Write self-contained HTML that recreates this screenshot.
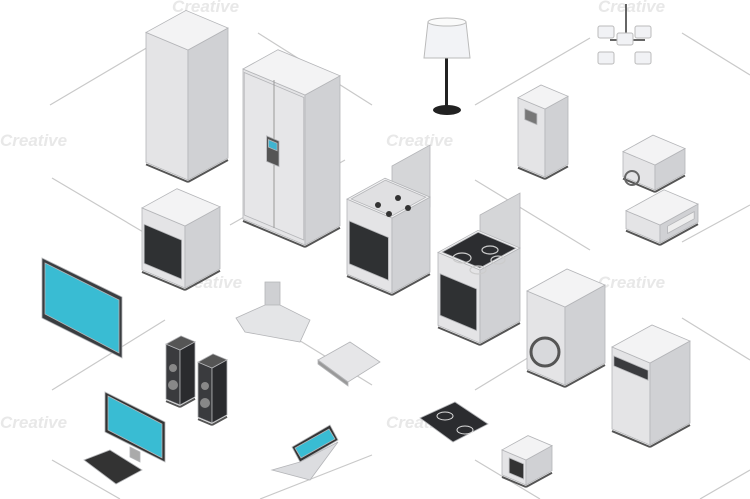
<!DOCTYPE html>
<html><head><meta charset="utf-8"><style>
html,body{margin:0;padding:0;background:#fff;width:750px;height:499px;overflow:hidden}
svg{display:block}
</style></head><body>
<svg id="s" width="750" height="499" viewBox="0 0 750 499" xmlns="http://www.w3.org/2000/svg">
<g font-family="Liberation Sans, sans-serif" fill="#e8e8e8" font-style="italic" font-weight="bold" font-size="17">
<text x="172" y="12">Creative</text><text x="0" y="146">Creative</text><text x="386" y="146">Creative</text>
<text x="598" y="12">Creative</text><text x="175" y="288">Creative</text><text x="598" y="288">Creative</text>
<text x="0" y="428">Creative</text><text x="386" y="428">Creative</text>
</g>
<g stroke="#c9c9c9" stroke-width="1.2">
<line x1="50" y1="105" x2="160" y2="40"/>
<line x1="258" y1="33" x2="372" y2="105"/>
<line x1="475" y1="105" x2="590" y2="38"/>
<line x1="682" y1="33" x2="750" y2="75"/>
<line x1="52" y1="178" x2="150" y2="236"/>
<line x1="230" y1="225" x2="345" y2="160"/>
<line x1="475" y1="180" x2="590" y2="250"/>
<line x1="682" y1="242" x2="750" y2="205"/>
<line x1="52" y1="390" x2="165" y2="320"/>
<line x1="258" y1="315" x2="372" y2="385"/>
<line x1="475" y1="390" x2="590" y2="320"/>
<line x1="682" y1="318" x2="750" y2="360"/>
<line x1="52" y1="460" x2="120" y2="499"/>
<line x1="260" y1="499" x2="372" y2="455"/>
<line x1="475" y1="460" x2="540" y2="499"/>
<line x1="700" y1="499" x2="750" y2="470"/>
</g>
<g id="g"></g>
</svg>
<script>
(function(){
var G=document.getElementById('g'),h='';
function P(pts,f,st){h+='<polygon points="'+pts.map(function(p){return p[0].toFixed(1)+','+p[1].toFixed(1);}).join(' ')+'" fill="'+f+'" stroke="'+(st||'#b4b5b8')+'" stroke-width="0.8"/>';}
var SL=0.42,SR=0.55;
function box(x,y,a,b,H,cl,cr,ct){
 P([[x,y],[x-a,y-a*SL],[x-a,y-a*SL-H],[x,y-H]],cl||'#e4e4e6');
 P([[x,y],[x+b,y-b*SR],[x+b,y-b*SR-H],[x,y-H]],cr||'#d0d1d4');
 P([[x,y-H],[x-a,y-a*SL-H],[x-a+b,y-a*SL-b*SR-H],[x+b,y-b*SR-H]],ct||'#f3f3f4');
 h+='<line x1="'+(x-a)+'" y1="'+(y-a*SL+2)+'" x2="'+x+'" y2="'+(y+2)+'" stroke="#555" stroke-width="2"/><line x1="'+x+'" y1="'+(y+2)+'" x2="'+(x+b)+'" y2="'+(y-b*SR+2)+'" stroke="#555" stroke-width="2"/>';
}
function LF(x,y,a,H,u1,v1,u2,v2,f){P([[x-a*u1,y-a*u1*SL-H*v1],[x-a*u2,y-a*u2*SL-H*v1],[x-a*u2,y-a*u2*SL-H*v2],[x-a*u1,y-a*u1*SL-H*v2]],f);}
function RF(x,y,b,H,u1,v1,u2,v2,f){P([[x+b*u1,y-b*u1*SR-H*v1],[x+b*u2,y-b*u2*SR-H*v1],[x+b*u2,y-b*u2*SR-H*v2],[x+b*u1,y-b*u1*SR-H*v2]],f);}
function TP(x,y,a,b,H,u1,w1,u2,w2,f){function q(u,w){return [x-a*u+b*w,y-a*u*SL-b*w*SR-H];}P([q(u1,w1),q(u2,w1),q(u2,w2),q(u1,w2)],f);}
box(188,180,42,40,130);
box(305,245,62,35,150);LF(305,245,62,150,0.02,0.03,0.98,0.98,'#e6e6e8');
h+='<line x1="274" y1="228" x2="274" y2="80" stroke="#999"/>';
LF(305,245,62,150,0.42,0.45,0.62,0.62,'#555');LF(305,245,62,150,0.45,0.55,0.59,0.6,'#3fb4d0');
box(185,288,43,35,62);LF(185,288,43,62,0.08,0.12,0.95,0.75,'#2f3133');
P([[392,228],[430,207],[430,145],[392,166]],'#d5d6d8');
box(392,293,45,38,75);LF(392,293,45,75,0.08,0.15,0.95,0.72,'#2f3133');
TP(392,293,45,38,75,0.05,0.05,0.95,0.95,'#e0e0e2');
h+='<g fill="#333"><circle cx="378" cy="205" r="3"/><circle cx="398" cy="198" r="3"/><circle cx="389" cy="214" r="3"/><circle cx="408" cy="208" r="3"/></g>';
P([[480,270],[520,248],[520,193],[480,215]],'#d5d6d8');
box(480,343,42,40,73);LF(480,343,42,73,0.08,0.15,0.95,0.72,'#2f3133');
TP(480,343,42,40,73,0.05,0.05,0.95,0.95,'#2c2d30');
h+='<g fill="none" stroke="#ccc" stroke-width="1.2"><ellipse cx="462" cy="258" rx="9" ry="5"/><ellipse cx="490" cy="250" rx="8" ry="4"/><ellipse cx="478" cy="270" rx="8" ry="4"/><ellipse cx="498" cy="260" rx="7" ry="4"/></g>';
box(545,177,27,23,68);LF(545,177,27,68,0.3,0.72,0.75,0.88,'#777');
h+='<rect x="445" y="55" width="3" height="52" fill="#222"/><ellipse cx="447" cy="110" rx="14" ry="5" fill="#222"/><path d="M428 22 L466 22 L470 58 L424 58Z" fill="#f2f3f6" stroke="#bbb"/><ellipse cx="447" cy="22" rx="19" ry="4" fill="#fafafa" stroke="#bbb"/>';
h+='<g stroke="#333" stroke-width="1.5"><line x1="626" y1="4" x2="626" y2="45"/><line x1="610" y1="40" x2="645" y2="40"/></g>';
[[606,26],[643,26],[606,52],[643,52],[625,33]].forEach(function(p){h+='<rect x="'+(p[0]-8)+'" y="'+p[1]+'" width="16" height="12" rx="2" fill="#f1f2f5" stroke="#bbb"/>';});
box(655,190,32,30,25);box(660,243,34,38,18);RF(660,243,38,18,0.2,0.3,0.9,0.7,'#eee');
h+='<circle cx="632" cy="178" r="7" fill="none" stroke="#666" stroke-width="2"/>';
P([[42,258],[122,297],[122,358],[42,318]],'#3a3d40');P([[45,263],[119,300],[119,353],[45,314]],'#39bcd3');
P([[265,282],[280,282],[280,312],[265,312]],'#cfd0d3');P([[236,318],[265,305],[280,305],[310,320],[300,342],[245,332]],'#e4e5e7');
box(180,405,14,15,55,'#3a3b3e','#2a2b2e','#555');box(212,423,14,15,55,'#3a3b3e','#2a2b2e','#555');
h+='<g fill="#888"><circle cx="173" cy="368" r="4"/><circle cx="173" cy="385" r="5"/><circle cx="205" cy="386" r="4"/><circle cx="205" cy="403" r="5"/></g>';
P([[318,360],[350,342],[380,362],[348,382]],'#e6e6e8');P([[318,360],[348,382],[348,386],[318,364]],'#999');
box(565,385,38,40,78);h+='<circle cx="545" cy="352" r="14" fill="#d8d9dc" stroke="#555" stroke-width="3"/>';
box(650,445,38,40,82);LF(650,445,38,82,0.05,0.78,0.95,0.9,'#3a3b3e');
P([[105,392],[165,422],[165,462],[105,432]],'#333');P([[108,396],[162,424],[162,458],[108,430]],'#39bcd3');
P([[130,447],[140,452],[140,462],[130,457]],'#aaa');
P([[84,460],[110,450],[142,470],[116,484]],'#333');
P([[300,462],[338,440],[330,425],[292,447]],'#333');P([[301,458],[335,439],[329,429],[295,448]],'#39bcd3');
P([[272,470],[300,462],[338,442],[310,480]],'#dcdde0');
P([[420,418],[455,402],[488,424],[453,442]],'#2b2c2f');
h+='<g fill="none" stroke="#ddd"><ellipse cx="445" cy="416" rx="8" ry="4"/><ellipse cx="465" cy="430" rx="8" ry="4"/></g>';
box(526,485,24,26,25);LF(526,485,24,25,0.1,0.2,0.7,0.8,'#333');
G.innerHTML=h;
})();
</script>
</body></html>
